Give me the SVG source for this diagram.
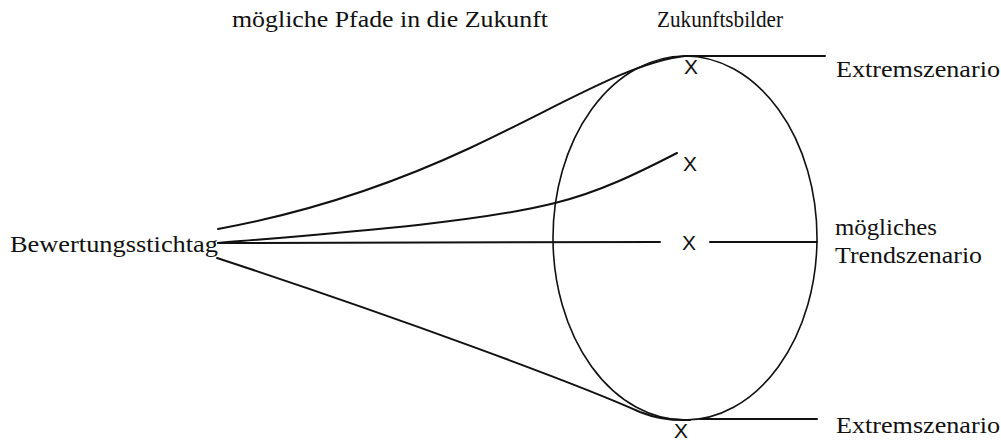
<svg xmlns="http://www.w3.org/2000/svg" width="1001" height="441" viewBox="0 0 1001 441">
<style>
.lbl{font-family:"Liberation Serif","Times New Roman",serif;font-size:24px;fill:#111}
.x{font-family:"Liberation Sans",Arial,sans-serif;font-size:21px;fill:#111;text-anchor:middle}
.ln{fill:none;stroke:#111;stroke-width:2;stroke-linecap:round}
</style>
<rect width="1001" height="441" fill="#fff"/>
<g id="headers">
<text class="lbl" x="232" y="27" textLength="316" lengthAdjust="spacingAndGlyphs">mögliche Pfade in die Zukunft</text>
<text class="lbl" x="657" y="27" textLength="126" lengthAdjust="spacingAndGlyphs">Zukunftsbilder</text>
</g>
<g id="zukunftsbilder">
<ellipse cx="685" cy="238" rx="132" ry="182" fill="none" stroke="#111" stroke-width="1.6"/>
</g>
<g id="start">
<text class="lbl" x="10" y="252" textLength="208" lengthAdjust="spacingAndGlyphs">Bewertungsstichtag</text>
</g>
<g id="x-top"><text class="x" x="691" y="74">X</text></g>
<g id="x-second"><text class="x" x="690" y="171">X</text></g>
<g id="x-middle"><text class="x" x="689" y="250">X</text></g>
<g id="x-bottom"><text class="x" x="681" y="438">X</text></g>
<g id="extrem-top"><text class="lbl" x="836" y="77" textLength="164" lengthAdjust="spacingAndGlyphs">Extremszenario</text></g>
<g id="trend">
<text class="lbl" x="835" y="235" textLength="102" lengthAdjust="spacingAndGlyphs">mögliches</text>
<text class="lbl" x="835" y="263" textLength="147" lengthAdjust="spacingAndGlyphs">Trendszenario</text>
</g>
<g id="extrem-bottom"><text class="lbl" x="836" y="433" textLength="164" lengthAdjust="spacingAndGlyphs">Extremszenario</text></g>
<g id="connectors">
<path class="ln" d="M218,229 C300,214 380,190 470,148 S630,62 685,56 L825,56"/>
<path class="ln" d="M218,243 C350,232 480,222 555,203 C600,192 640,172 677,153"/>
<path class="ln" d="M218,243 L660,242"/>
<path class="ln" d="M710,242 L817,242"/>
<path class="ln" d="M217,258 C400,318 580,385 640,412 Q662,421 690,420"/>
<path class="ln" d="M700,419 L817,419"/>
</g>
</svg>
